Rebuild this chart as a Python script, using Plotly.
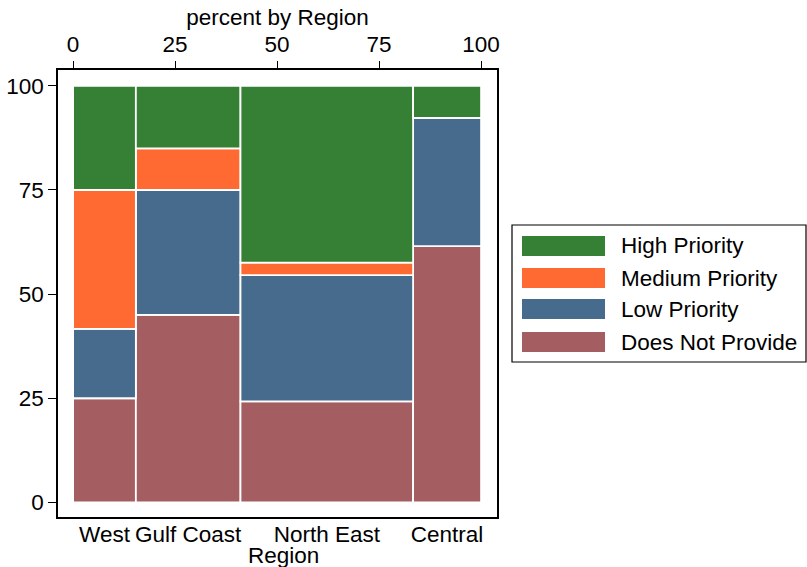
import plotly.graph_objects as go
import numpy as np

regions = ["West", "Gulf Coast", "North East", "Central"]
region_counts = [12, 20, 33, 13]
categories = ["Does Not Provide", "Low Priority", "Medium Priority", "High Priority"]
does_not_provide = [3, 9, 8, 8]
low_priority = [2, 6, 10, 4]
medium_priority = [4, 2, 1, 0]
high_priority = [3, 3, 14, 1]
colors = {"High Priority": "#358035", "Medium Priority": "#FF6A33",
          "Low Priority": "#476B8C", "Does Not Provide": "#A45E62"}
top_ticks = [0, 25, 50, 75, 100]
y_ticks = [0, 25, 50, 75, 100]

counts = np.array(region_counts, dtype=float)
widths = counts / counts.sum() * 100
lefts = np.concatenate([[0], np.cumsum(widths)[:-1]])
centers = lefts + widths / 2

series = {"Does Not Provide": does_not_provide, "Low Priority": low_priority,
          "Medium Priority": medium_priority, "High Priority": high_priority}

fig = go.Figure()
base = np.zeros(len(regions))
for cat in categories:
    vals = np.array(series[cat], dtype=float) / counts * 100
    fig.add_trace(go.Bar(x=centers, y=vals, base=base, width=widths, name=cat,
                         marker=dict(color=colors[cat], line=dict(color="white", width=1.8)),
                         showlegend=False))
    base = base + vals

fig.add_trace(go.Scatter(x=[0, 100], y=[0, 0], xaxis="x2", mode="markers",
                         marker=dict(opacity=0), showlegend=False, hoverinfo="skip"))

font = dict(family="Liberation Sans, Arial, sans-serif", size=22.5, color="black")
xr = [-3.7, 103.9]
fig.update_layout(
    width=807, height=567,
    margin=dict(l=58, r=310, t=70, b=50, autoexpand=False),
    paper_bgcolor="white", plot_bgcolor="white",
    font=font, barmode="overlay",
    xaxis=dict(range=xr, tickvals=list(centers), ticktext=regions, ticks="",
               showgrid=False, zeroline=False, showline=True, linecolor="black",
               linewidth=1.6, mirror=True, automargin=False, ticklabelstandoff=-4,
               tickfont=font),
    xaxis2=dict(range=xr, overlaying="x", side="top", tickvals=top_ticks,
                ticks="outside", ticklen=8, tickwidth=1, tickcolor="black",
                showgrid=False, zeroline=False, showline=False, automargin=False,
                title=dict(text="percent by Region", standoff=0, font=font), tickfont=font),
    yaxis=dict(range=[-3.5, 103.8], tickvals=y_ticks, ticks="outside", ticklen=8,
               tickwidth=1, tickcolor="black", showgrid=False, zeroline=False,
               showline=True, linecolor="black", linewidth=1.6, mirror=True,
               automargin=False, tickfont=font),
)

pw, ph = 439.0, 447.0
def px(xp):
    return (xp - 58) / pw
def py(yp):
    return 1 - (yp - 70) / ph

# bottom axis title
fig.add_annotation(xref="paper", yref="paper", x=px(283), y=py(555), text="Region",
                   showarrow=False, xanchor="center", yanchor="middle", font=font)

# custom legend (wide swatches)
fig.add_shape(type="rect", xref="paper", yref="paper", x0=px(512), x1=px(806),
              y0=py(362), y1=py(225), line=dict(color="black", width=1.2), fillcolor="white")
legend_order = ["High Priority", "Medium Priority", "Low Priority", "Does Not Provide"]
row_tops = [236, 268, 299, 332]
for cat, t in zip(legend_order, row_tops):
    fig.add_shape(type="rect", xref="paper", yref="paper", x0=px(522), x1=px(605),
                  y0=py(t + 20), y1=py(t), line=dict(width=0), fillcolor=colors[cat])
    fig.add_annotation(xref="paper", yref="paper", x=px(619), y=py(t + 10), text=cat,
                       showarrow=False, xanchor="left", yanchor="middle", font=font)

fig.write_html("out.html", config={"displayModeBar": False},
               post_script="document.body.style.margin='0';")
